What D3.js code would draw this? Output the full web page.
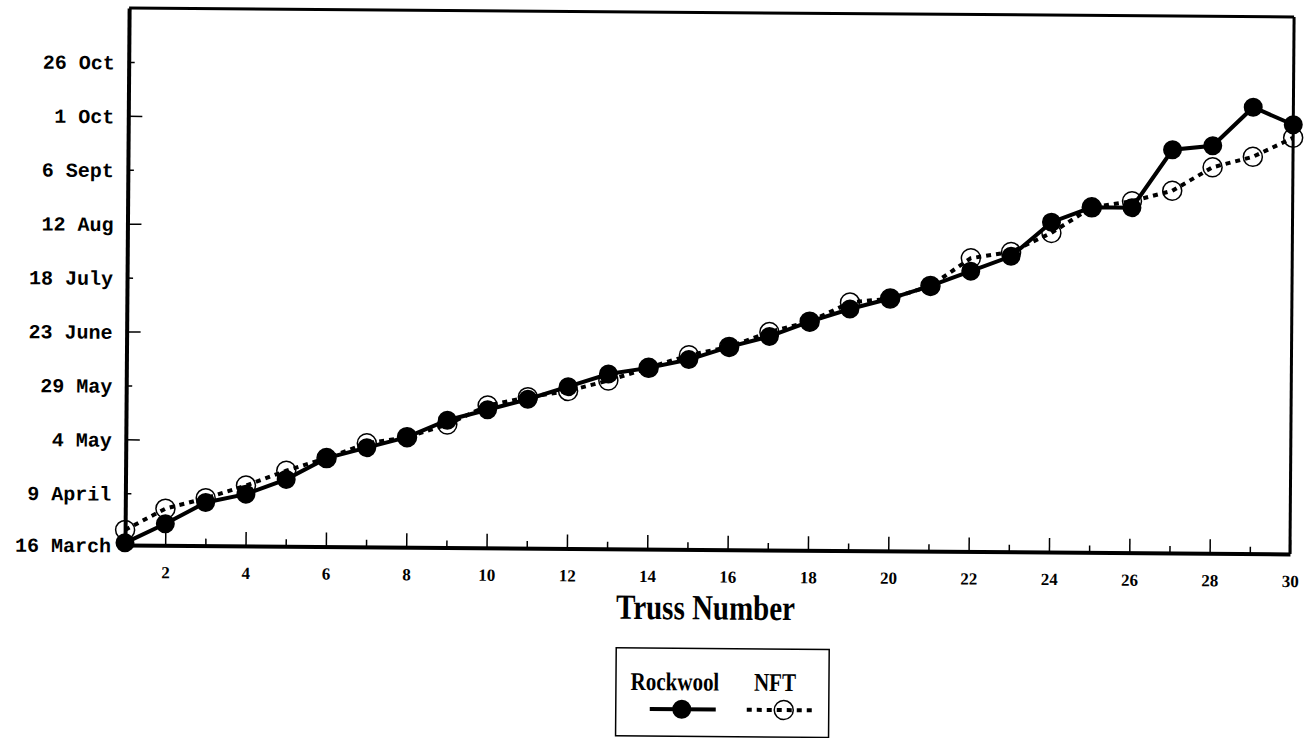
<!DOCTYPE html>
<html>
<head>
<meta charset="utf-8">
<script src="https://cdn.jsdelivr.net/npm/d3@7"></script>
<style>
  html, body { margin: 0; padding: 0; background: #fff; }
  svg { display: block; }
</style>
</head>
<body>
<svg id="chart" width="1313" height="738"></svg>
<script>
// Truss numbers
const truss = d3.range(1, 31);
// Date of flowering, in days after 16 March
const rockwool = [1, 10, 20, 24, 31, 41, 46, 51, 59, 64, 69, 75, 81, 84, 88, 94, 99, 106, 112, 117, 123, 130, 137, 153, 160, 160, 187, 189, 207, 199];
const nft      = [7, 17, 22, 28, 35, 41, 48, 51, 57, 66, 70, 73, 78, 84, 90, 94, 101, 106, 115, 117, 123, 136, 139, 148, 160, 163, 168, 179, 184, 193];
// Y tick positions (days after 16 March) and labels
const yTickDays   = [0, 24, 49, 74, 99, 124, 149, 174, 199, 224];
const yTickLabels = ["16 March", "9 April", "4 May", "29 May", "23 June", "18 July", "12 Aug", "6 Sept", "1 Oct", "26 Oct"];
const seriesNames = ["Rockwool", "NFT"];

const svg = d3.select("#chart");
const plotL = 125, plotR = 1290, plotT = 8, plotB = 545;

const root = svg.append("g").attr("transform", `rotate(0.44, ${plotL}, ${plotB})`);

const x = d3.scaleLinear().domain([1, 30]).range([plotL, plotR]);
const y = d3.scaleLinear().domain([0, 249]).range([plotB, plotT]);

// Frame
root.append("line").attr("x1", plotL).attr("x2", plotR).attr("y1", plotT).attr("y2", plotT)
  .attr("stroke", "#000").attr("stroke-width", 3);
root.append("line").attr("x1", plotR).attr("x2", plotR).attr("y1", plotT).attr("y2", plotB)
  .attr("stroke", "#000").attr("stroke-width", 3);

// X axis
const xAxis = d3.axisBottom(x)
  .tickValues(truss)
  .tickSizeInner(0).tickSizeOuter(0)
  .tickFormat(d => (d % 2 === 0 ? d : ""));
const gx = root.append("g").attr("transform", `translate(0,${plotB})`).call(xAxis);
gx.select(".domain").attr("stroke-width", 4).attr("stroke", "#000");
gx.selectAll(".tick line").attr("y2", d => (d % 2 === 0 ? -14 : -7)).attr("stroke", "#000").attr("stroke-width", 1.5);
gx.selectAll(".tick text")
  .attr("y", 33).attr("dy", 0)
  .attr("font-family", "'Liberation Serif', 'Times New Roman', serif")
  .attr("font-weight", "bold").attr("font-size", 17).attr("fill", "#000");

// Y axis
const yAxis = d3.axisLeft(y)
  .tickValues(yTickDays)
  .tickSizeInner(0).tickSizeOuter(0)
  .tickFormat((d, i) => yTickLabels[i]);
const gy = root.append("g").attr("transform", `translate(${plotL},0)`).call(yAxis);
gy.select(".domain").attr("stroke-width", 4).attr("stroke", "#000");
gy.selectAll(".tick line").attr("x2", (d, i) => (i % 2 === 0 ? 14 : 6)).attr("stroke", "#000").attr("stroke-width", 1.5);
gy.selectAll(".tick text")
  .attr("x", -14).attr("dy", "0.35em")
  .attr("font-family", "'Liberation Mono', 'Courier New', monospace")
  .attr("font-weight", "bold").attr("font-size", 20).attr("fill", "#000");

// Axis title
root.append("text")
  .attr("transform", `translate(706,615) scale(1,1.22)`)
  .attr("text-anchor", "middle")
  .attr("font-family", "'Liberation Serif', 'Times New Roman', serif")
  .attr("font-weight", "bold").attr("font-size", 29)
  .text("Truss Number");

// Lines
const lineGen = vals => d3.line().x((d, i) => x(truss[i])).y(d => y(d))(vals);

root.append("path").attr("d", lineGen(nft))
  .attr("fill", "none").attr("stroke", "#000").attr("stroke-width", 4)
  .attr("stroke-dasharray", "5,5");
root.append("path").attr("d", lineGen(rockwool))
  .attr("fill", "none").attr("stroke", "#000").attr("stroke-width", 4);

root.append("g").selectAll("circle").data(nft).join("circle")
  .attr("cx", (d, i) => x(truss[i])).attr("cy", d => y(d)).attr("r", 9.5)
  .attr("fill", "none").attr("stroke", "#000").attr("stroke-width", 1.5);
root.append("g").selectAll("circle").data(rockwool).join("circle")
  .attr("cx", (d, i) => x(truss[i])).attr("cy", d => y(d)).attr("r", 9.5)
  .attr("fill", "#000");

// Legend
const lg = root.append("g");
lg.append("rect").attr("x", 617).attr("y", 644).attr("width", 213).attr("height", 88)
  .attr("fill", "none").attr("stroke", "#000").attr("stroke-width", 1.5);
lg.append("text").attr("transform", "translate(676,686) scale(1,1.22)")
  .attr("text-anchor", "middle")
  .attr("font-family", "'Liberation Serif', 'Times New Roman', serif")
  .attr("font-weight", "bold").attr("font-size", 21).text(seriesNames[0]);
lg.append("text").attr("transform", "translate(776,686) scale(1,1.22)")
  .attr("text-anchor", "middle")
  .attr("font-family", "'Liberation Serif', 'Times New Roman', serif")
  .attr("font-weight", "bold").attr("font-size", 21).text(seriesNames[1]);
lg.append("line").attr("x1", 651).attr("x2", 717).attr("y1", 705).attr("y2", 705)
  .attr("stroke", "#000").attr("stroke-width", 4);
lg.append("circle").attr("cx", 683).attr("cy", 705).attr("r", 9.5).attr("fill", "#000");
lg.append("line").attr("x1", 748).attr("x2", 815).attr("y1", 705).attr("y2", 705)
  .attr("stroke", "#000").attr("stroke-width", 4).attr("stroke-dasharray", "5,5");
lg.append("circle").attr("cx", 785).attr("cy", 705).attr("r", 9.5)
  .attr("fill", "none").attr("stroke", "#000").attr("stroke-width", 1.5);
</script>
</body>
</html>
